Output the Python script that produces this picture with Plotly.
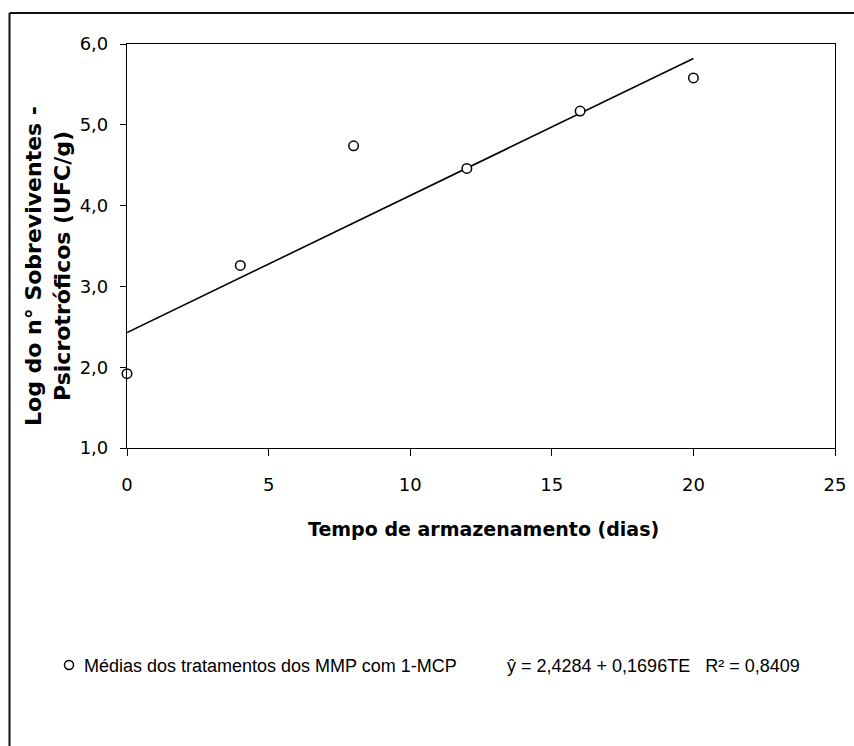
import plotly.graph_objects as go

# ---- data ----
days = [0, 4, 8, 12, 16, 20]
log_psicro = [1.92, 3.26, 4.74, 4.46, 5.17, 5.58]
trend_days = [0, 20]
trend_values = [2.4284, 5.8204]   # ŷ = 2,4284 + 0,1696TE
x_ticks = [0, 5, 10, 15, 20, 25]
y_ticks = [1.0, 2.0, 3.0, 4.0, 5.0, 6.0]
y_tick_labels = ["1,0", "2,0", "3,0", "4,0", "5,0", "6,0"]
legend_label = "Médias dos tratamentos dos MMP com 1-MCP"
equation_label = "ŷ = 2,4284 + 0,1696TE   R² = 0,8409"
x_title = "Tempo de armazenamento (dias)"
y_title = "Log do n° Sobreviventes -<br>Psicrotróficos (UFC/g)"

W, H = 854, 746
L, R, T, B = 127, 19, 44, 298
PW, PH = W - L - R, H - T - B

def px(x):
    return (x - L) / PW

def py(y):
    return (H - B - y) / PH

fig = go.Figure()
fig.add_trace(go.Scatter(
    x=trend_days, y=trend_values, mode="lines",
    line=dict(color="black", width=1.6), showlegend=False, hoverinfo="skip"))
fig.add_trace(go.Scatter(
    x=days, y=log_psicro, mode="markers", name=legend_label,
    marker=dict(symbol="circle", size=9.5, color="white",
                line=dict(color="black", width=1.5)),
    cliponaxis=False, showlegend=False))

axis_common = dict(showline=True, linecolor="black", linewidth=1.2, mirror=True,
                   ticks="outside", tickcolor="black", tickwidth=1.2,
                   showgrid=False, zeroline=False,
                   tickfont=dict(family="DejaVu Sans", size=18, color="black"))

fig.update_xaxes(range=[0, 25], tickvals=x_ticks, ticklen=7,
                 ticklabelstandoff=13, **axis_common)
fig.update_yaxes(range=[1, 6], tickvals=y_ticks, ticktext=y_tick_labels,
                 ticklen=6, ticklabelstandoff=8, **axis_common)

annotations = [
    dict(text=x_title, x=px(483), y=py(529), xref="paper", yref="paper",
         xanchor="center", yanchor="middle", showarrow=False,
         font=dict(family="DejaVu Sans", size=19, color="black", weight="bold")),
    dict(text=y_title, x=px(48), y=py(266), xref="paper", yref="paper",
         xanchor="center", yanchor="middle", showarrow=False, textangle=-90,
         font=dict(family="DejaVu Sans", size=22, color="black", weight="bold")),
    dict(text=legend_label, x=px(82), y=py(666), xref="paper", yref="paper",
         xanchor="left", yanchor="middle", showarrow=False,
         font=dict(family="Liberation Sans", size=18, color="black")),
    dict(text=equation_label, x=px(505), y=py(666), xref="paper", yref="paper",
         xanchor="left", yanchor="middle", showarrow=False,
         font=dict(family="Liberation Sans", size=18, color="black")),
]

shapes = [
    # outer frame (left and top edges visible)
    dict(type="line", xref="paper", yref="paper", x0=px(9.5), y0=py(13),
         x1=px(900), y1=py(13), line=dict(color="#111", width=2)),
    dict(type="line", xref="paper", yref="paper", x0=px(9.5), y0=py(13),
         x1=px(9.5), y1=py(800), line=dict(color="#111", width=2)),
    # legend marker
    dict(type="circle", xref="paper", yref="paper", xsizemode="pixel",
         ysizemode="pixel", xanchor=px(69), yanchor=py(665),
         x0=-4.5, x1=4.5, y0=-4.5, y1=4.5,
         line=dict(color="black", width=1.5), fillcolor="white"),
]

fig.update_layout(
    width=W, height=H,
    margin=dict(l=L, r=R, t=T, b=B, autoexpand=False),
    plot_bgcolor="white", paper_bgcolor="white",
    annotations=annotations, shapes=shapes, showlegend=False,
)

fig.write_html(
    "out.html",
    config={"displayModeBar": False},
    post_script="document.body.style.margin='0';document.body.style.overflow='hidden';",
)
